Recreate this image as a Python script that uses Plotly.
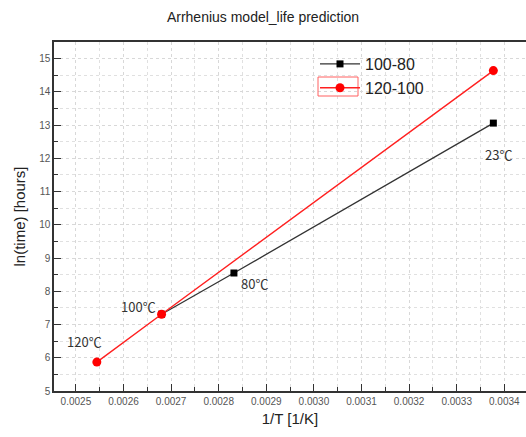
import plotly.graph_objects as go

# data
inv_T_100_80 = [0.002680, 0.002832, 0.003377]
ln_t_100_80 = [7.31, 8.55, 13.06]
inv_T_120_100 = [0.002544, 0.002680, 0.003377]
ln_t_120_100 = [5.87, 7.31, 14.64]
label_x = [0.002544, 0.002680, 0.002832, 0.003377]
label_y = [5.87, 7.31, 8.55, 13.06]
label_text = ["120℃", "100℃", "80℃", "23℃"]

W, H = 526, 437
ml, mr, mt, mb = 54, 0, 42, 46

fig = go.Figure()
fig.add_trace(go.Scatter(x=inv_T_100_80, y=ln_t_100_80, name="100-80", mode="lines+markers",
                         line=dict(color="#333333", width=1.3),
                         marker=dict(symbol="square", size=7, color="black")))
fig.add_trace(go.Scatter(x=inv_T_120_100, y=ln_t_120_100, name="120-100", mode="lines+markers",
                         line=dict(color="#ff2020", width=1.4),
                         marker=dict(symbol="circle", size=9, color="#ff0000")))

offsets = [(-12, -21), (-23, -8), (21, 10), (5, 31)]
for x, y, t, (dx, dy) in zip(label_x, label_y, label_text, offsets):
    fig.add_annotation(x=x, y=y, text=t, showarrow=False, xshift=dx, yshift=-dy,
                       font=dict(family="Noto Sans CJK SC", size=13, color="#333333"))

grid = dict(gridcolor="#d8d8d8", griddash="dot", gridwidth=1)
fig.update_xaxes(range=[0.002454, 0.0034456], dtick=0.0001, tick0=0.0025, tickformat=".4f",
                 showline=True, linecolor="#333333", linewidth=1.5, mirror=True,
                 ticks="inside", ticklen=7, tickcolor="#333333",
                 minor=dict(dtick=0.00005, ticks="inside", ticklen=4, tickcolor="#333333",
                            showgrid=True, gridcolor="#e0e0e0", griddash="dot"),
                 tickfont=dict(family="Liberation Sans", size=10, color="#555555"),
                 title=dict(text="1/T [1/K]", font=dict(family="Liberation Sans", size=15, color="#222222"),
                            standoff=8),
                 zeroline=False, **grid)
fig.update_yaxes(range=[5, 15.5], dtick=1, tick0=5,
                 showline=True, linecolor="#333333", linewidth=1.5, mirror=False,
                 ticks="inside", ticklen=7, tickcolor="#333333",
                 minor=dict(dtick=0.5, ticks="inside", ticklen=4, tickcolor="#333333",
                            showgrid=True, gridcolor="#e0e0e0", griddash="dot"),
                 tickfont=dict(family="Liberation Sans", size=10, color="#555555"),
                 title=dict(text="ln(time) [hours]", font=dict(family="Liberation Sans", size=15, color="#222222"),
                            standoff=10),
                 zeroline=False, **grid)

pw, ph = W - ml - mr, H - mt - mb
def px2paper(px, py):
    return (px - ml) / pw, (H - mb - py) / ph

lx, ly = px2paper(315, 47)
fig.update_layout(
    width=W, height=H,
    margin=dict(l=ml, r=mr, t=mt, b=mb),
    paper_bgcolor="white", plot_bgcolor="white",
    title=dict(text="Arrhenius model_life prediction", x=0.5, xanchor="center", y=1 - 17 / H, yanchor="middle",
               font=dict(family="Liberation Sans", size=14, color="#222222")),
    showlegend=True,
    legend=dict(x=lx, y=ly, xanchor="left", yanchor="top", bgcolor="rgba(0,0,0,0)",
                font=dict(family="Liberation Sans", size=16, color="#222222"),
                tracegroupgap=2, itemwidth=40),
)
# selection box around second legend symbol
x0, y0 = px2paper(318, 96)
x1, y1 = px2paper(358, 77)
fig.add_shape(type="rect", xref="paper", yref="paper", x0=x0, y0=y0, x1=x1, y1=y1,
              line=dict(color="#ff6060", width=1))

fig.write_html("out.html")
